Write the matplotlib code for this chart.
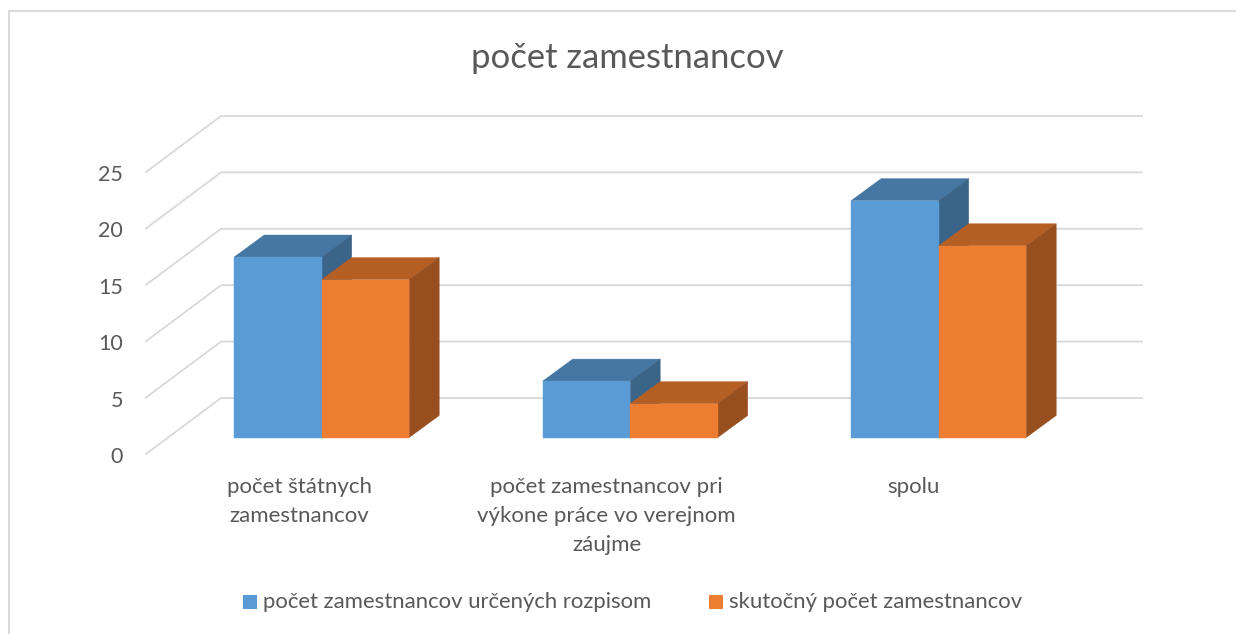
import matplotlib
matplotlib.use("Agg")
import matplotlib.pyplot as plt
from matplotlib.patches import Polygon, Rectangle

plt.rcParams['font.family'] = ['Lato', 'DejaVu Sans']

W, H = 1236, 634

# data
categories = ["počet štátnych\nzamestnancov",
              "počet zamestnancov pri\nvýkone práce vo verejnom\nzáujme",
              "spolu"]
series_names = ["počet zamestnancov určených rozpisom", "skutočný počet zamestnancov"]
planned = [16, 5, 21]
actual = [14, 3, 17]
y_ticks = [0, 5, 10, 15, 20, 25]

TEXT = '#595959'
GRID = '#d9d9d9'
FRONT = ['#5b9bd5', '#ed7d31']
TOP = ['#4677a3', '#b65f25']
SIDE = ['#3a6488', '#984f1f']

# px helpers, y measured from top of the picture
PX_UNIT = 11.28   # pixels per employee
BASE_Y = 437.5    # floor line of the bars
XC0, XSTEP = 321.7, 308.5   # first group centre, group spacing
BAR_W = 87.5 / XSTEP
DX, DY = 30, 22   # bar depth

fig = plt.figure(figsize=(W / 100, H / 100), dpi=100)
bg = fig.add_axes([0, 0, 1, 1])
bg.set_xlim(0, W)
bg.set_ylim(H, 0)
bg.axis('off')

# frame, open at the right and at the bottom of the crop
bg.plot([9, 9, W], [H, 11, 11], color=GRID, lw=1.4, zorder=1)

# walls: front edge of the floor is 17 px below the bars, back edge 39 px above
for v in y_ticks:
    yf = 454 - v * PX_UNIT
    bg.plot([146, 221, 1142], [yf, yf - 56, yf - 56], color=GRID, lw=1.3, zorder=1)
    bg.text(123, yf + 3, str(v), ha='right', va='center', fontsize=15.5, color=TEXT)

# bars live in a data axes: x = group index, y = employees
x0, x1 = -XC0 / XSTEP, (W - XC0) / XSTEP
y0, y1 = -(H - BASE_Y) / PX_UNIT, BASE_Y / PX_UNIT
ax = fig.add_axes([0, 0, 1, 1], facecolor='none')
ax.set_xlim(x0, x1)
ax.set_ylim(y0, y1)
ax.axis('off')

dx = DX / XSTEP
dy = DY / PX_UNIT
for s, vals in enumerate([planned, actual]):
    for i, v in enumerate(vals):
        left = i - BAR_W + s * BAR_W
        right = left + BAR_W
        ax.add_patch(Polygon([(left, v), (left + dx, v + dy), (right + dx, v + dy), (right, v)],
                             fc=TOP[s], ec=TOP[s], lw=0.3, zorder=3 + s))
        ax.add_patch(Polygon([(right, 0), (right + dx, dy), (right + dx, v + dy), (right, v)],
                             fc=SIDE[s], ec=SIDE[s], lw=0.3, zorder=3 + s))
    ax.bar([i - BAR_W + s * BAR_W for i in range(3)], vals, width=BAR_W, align='edge',
           color=FRONT[s], edgecolor=FRONT[s], lw=0.3, zorder=4 + s)

# category labels
label_x = [299.5, 606.5, 913]
for x, c in zip(label_x, categories):
    bg.text(x, 477, c, ha='center', va='top', fontsize=16, color=TEXT, linespacing=1.56)

# title + legend
bg.text(627.5, 58, "počet zamestnancov", ha='center', va='center', fontsize=24.9, color=TEXT)
bg.add_patch(Rectangle((243, 595), 14, 14, fc=FRONT[0], ec='none'))
bg.text(263, 602, series_names[0], ha='left', va='center', fontsize=15.9, color=TEXT)
bg.add_patch(Rectangle((709, 595), 14, 14, fc=FRONT[1], ec='none'))
bg.text(729, 602, series_names[1], ha='left', va='center', fontsize=15.9, color=TEXT)

fig.savefig("out.png", dpi=100)
